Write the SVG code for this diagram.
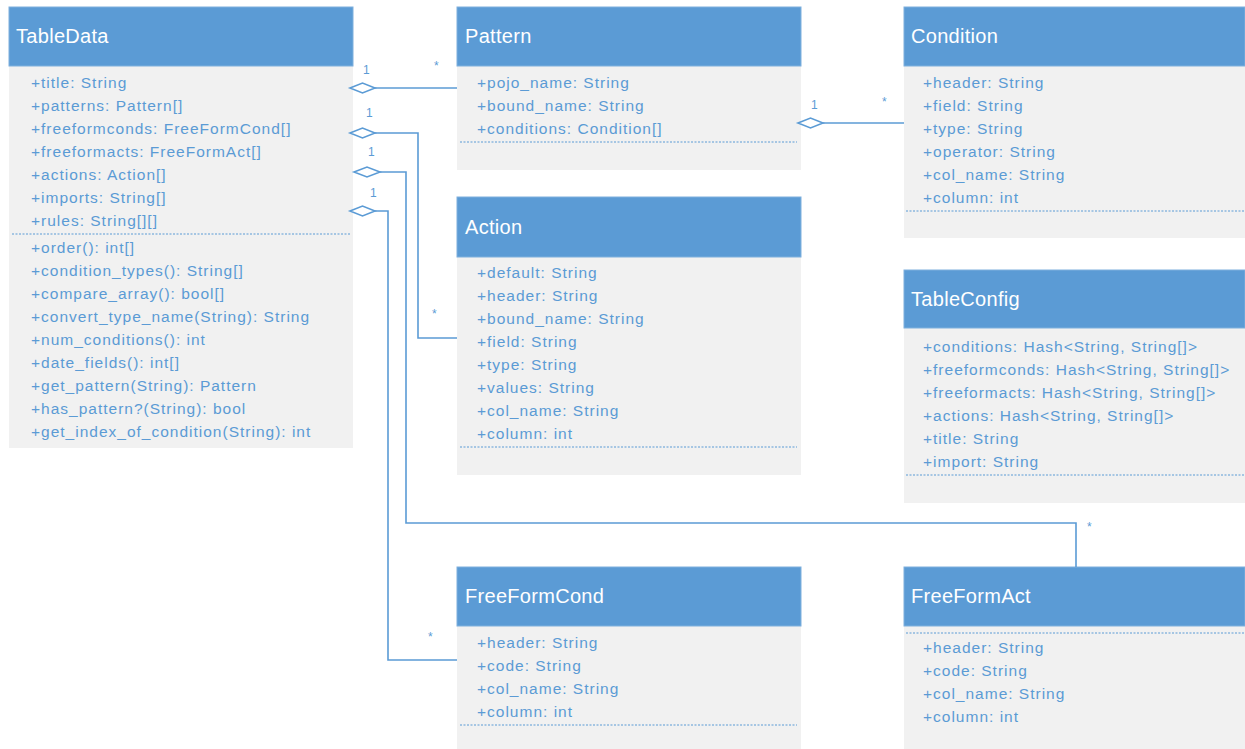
<svg xmlns="http://www.w3.org/2000/svg" width="1245" height="749" viewBox="0 0 1245 749">
<defs>
<style>
.hd{fill:#5B9BD5;stroke:#7FB0DD;stroke-width:1}
.bd{fill:#F1F1F1}
.ht{font-family:"Liberation Sans",Arial,sans-serif;font-size:20px;letter-spacing:0.3px;fill:#FFFFFF}
.at{font-family:"Liberation Sans",Arial,sans-serif;font-size:15.5px;letter-spacing:1px;fill:#5B9BD5}
.dash{stroke:#5B9BD5;stroke-width:1;stroke-dasharray:2 1.5;fill:none}
.cn{stroke:#5B9BD5;stroke-width:1.6;fill:none}
.dm{stroke:#5B9BD5;stroke-width:1.6;fill:#FFFFFF}
.lb{font-family:"Liberation Sans",Arial,sans-serif;font-size:12px;fill:#5B9BD5}
</style>
</defs>
<rect width="1245" height="749" fill="#FFFFFF"/>

<g id="TableData">
<rect class="bd" x="9" y="66" width="344" height="382"/>
<rect class="hd" x="9" y="7" width="344" height="59"/>
<text class="ht" x="16" y="43">TableData</text>
<text class="at" x="31" y="88">+title: String</text>
<text class="at" x="31" y="111">+patterns: Pattern[]</text>
<text class="at" x="31" y="134">+freeformconds: FreeFormCond[]</text>
<text class="at" x="31" y="157">+freeformacts: FreeFormAct[]</text>
<text class="at" x="31" y="180">+actions: Action[]</text>
<text class="at" x="31" y="203">+imports: String[]</text>
<text class="at" x="31" y="226">+rules: String[][]</text>
<line class="dash" x1="12" y1="234" x2="350" y2="234"/>
<text class="at" x="31" y="253">+order(): int[]</text>
<text class="at" x="31" y="276">+condition_types(): String[]</text>
<text class="at" x="31" y="299">+compare_array(): bool[]</text>
<text class="at" x="31" y="322">+convert_type_name(String): String</text>
<text class="at" x="31" y="345">+num_conditions(): int</text>
<text class="at" x="31" y="368">+date_fields(): int[]</text>
<text class="at" x="31" y="391">+get_pattern(String): Pattern</text>
<text class="at" x="31" y="414">+has_pattern?(String): bool</text>
<text class="at" x="31" y="437">+get_index_of_condition(String): int</text>
</g>

<g id="Pattern">
<rect class="bd" x="457" y="66" width="344" height="104"/>
<rect class="hd" x="457" y="7" width="344" height="59"/>
<text class="ht" x="465" y="43">Pattern</text>
<text class="at" x="477" y="88">+pojo_name: String</text>
<text class="at" x="477" y="111">+bound_name: String</text>
<text class="at" x="477" y="134">+conditions: Condition[]</text>
<line class="dash" x1="460" y1="142" x2="797" y2="142"/>
</g>

<g id="Condition">
<rect class="bd" x="904" y="66" width="341" height="172"/>
<rect class="hd" x="904" y="7" width="341" height="59"/>
<text class="ht" x="911" y="43">Condition</text>
<text class="at" x="923" y="88">+header: String</text>
<text class="at" x="923" y="111">+field: String</text>
<text class="at" x="923" y="134">+type: String</text>
<text class="at" x="923" y="157">+operator: String</text>
<text class="at" x="923" y="180">+col_name: String</text>
<text class="at" x="923" y="203">+column: int</text>
<line class="dash" x1="906" y1="211" x2="1245" y2="211"/>
</g>

<g id="Action">
<rect class="bd" x="457" y="257" width="344" height="218"/>
<rect class="hd" x="457" y="197" width="344" height="60"/>
<text class="ht" x="465" y="234">Action</text>
<text class="at" x="477" y="278">+default: String</text>
<text class="at" x="477" y="301">+header: String</text>
<text class="at" x="477" y="324">+bound_name: String</text>
<text class="at" x="477" y="347">+field: String</text>
<text class="at" x="477" y="370">+type: String</text>
<text class="at" x="477" y="393">+values: String</text>
<text class="at" x="477" y="416">+col_name: String</text>
<text class="at" x="477" y="439">+column: int</text>
<line class="dash" x1="460" y1="447" x2="797" y2="447"/>
</g>

<g id="TableConfig">
<rect class="bd" x="904" y="328" width="341" height="175"/>
<rect class="hd" x="904" y="270" width="341" height="58"/>
<text class="ht" x="911" y="306">TableConfig</text>
<text class="at" x="923" y="352">+conditions: Hash&lt;String, String[]&gt;</text>
<text class="at" x="923" y="375">+freeformconds: Hash&lt;String, String[]&gt;</text>
<text class="at" x="923" y="398">+freeformacts: Hash&lt;String, String[]&gt;</text>
<text class="at" x="923" y="421">+actions: Hash&lt;String, String[]&gt;</text>
<text class="at" x="923" y="444">+title: String</text>
<text class="at" x="923" y="467">+import: String</text>
<line class="dash" x1="906" y1="475" x2="1245" y2="475"/>
</g>

<g id="FreeFormCond">
<rect class="bd" x="457" y="626" width="344" height="123"/>
<rect class="hd" x="457" y="567" width="344" height="59"/>
<text class="ht" x="465" y="603">FreeFormCond</text>
<text class="at" x="477" y="648">+header: String</text>
<text class="at" x="477" y="671">+code: String</text>
<text class="at" x="477" y="694">+col_name: String</text>
<text class="at" x="477" y="717">+column: int</text>
<line class="dash" x1="460" y1="725" x2="797" y2="725"/>
</g>

<g id="FreeFormAct">
<rect class="bd" x="904" y="626" width="341" height="123"/>
<rect class="hd" x="904" y="567" width="341" height="59"/>
<text class="ht" x="911" y="603">FreeFormAct</text>
<line class="dash" x1="906" y1="633" x2="1245" y2="633"/>
<text class="at" x="923" y="653">+header: String</text>
<text class="at" x="923" y="676">+code: String</text>
<text class="at" x="923" y="699">+col_name: String</text>
<text class="at" x="923" y="722">+column: int</text>
</g>

<g id="connectors">
<polyline class="cn" points="375,88 457,88"/>
<polygon class="dm" points="350,88 362.5,83 375,88 362.5,93"/>
<text class="lb" x="363" y="74">1</text>
<text class="lb" x="434" y="70">*</text>

<polyline class="cn" points="375,133 418,133 418,338 457,338"/>
<polygon class="dm" points="350,133 362.5,128 375,133 362.5,138"/>
<text class="lb" x="366" y="117">1</text>
<text class="lb" x="432" y="318">*</text>

<polyline class="cn" points="380,172 406,172 406,523 1076,523 1076,567"/>
<polygon class="dm" points="354,172 367,167 380,172 367,177"/>
<text class="lb" x="368" y="156">1</text>
<text class="lb" x="1087" y="531">*</text>

<polyline class="cn" points="375,211 388,211 388,660 457,660"/>
<polygon class="dm" points="350,211 362.5,206 375,211 362.5,216"/>
<text class="lb" x="370" y="197">1</text>
<text class="lb" x="428" y="641">*</text>

<polyline class="cn" points="823,123 904,123"/>
<polygon class="dm" points="798,123 810.5,118 823,123 810.5,128"/>
<text class="lb" x="811" y="109">1</text>
<text class="lb" x="882" y="106">*</text>
</g>
</svg>
